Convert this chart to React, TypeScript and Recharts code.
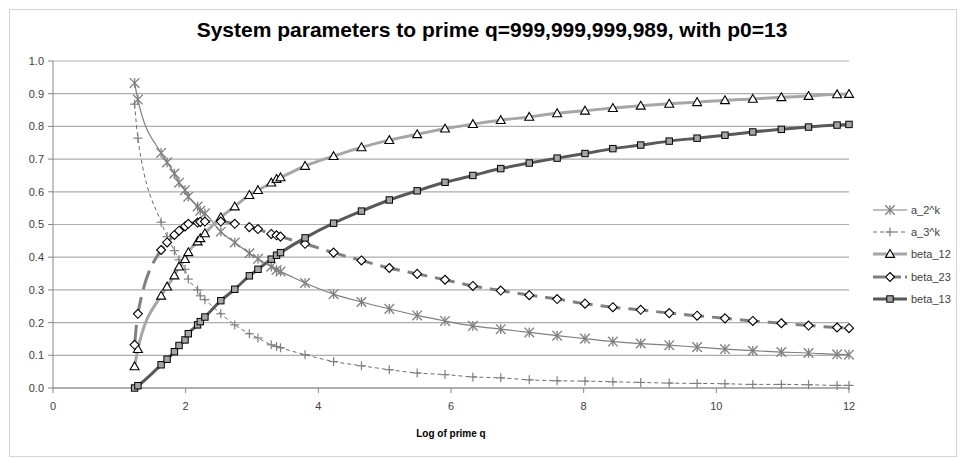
import { LineChart, Line, XAxis, YAxis, CartesianGrid } from 'recharts';

const logQ = [
  1.23, 1.28, 1.63, 1.72, 1.83, 1.9, 1.99, 2.04, 2.18, 2.22, 2.29, 2.53, 2.74, 2.96, 3.09, 3.29, 3.37, 3.43,
  3.8, 4.23, 4.65, 5.07, 5.49, 5.91, 6.33, 6.75, 7.18, 7.6, 8.02, 8.44, 8.86, 9.29, 9.71, 10.13, 10.55, 10.98,
  11.39, 11.82, 12.0,
];

const a2k = [
  0.933, 0.882, 0.719, 0.69, 0.656, 0.628, 0.605, 0.585, 0.555, 0.542, 0.534, 0.478, 0.445, 0.412, 0.395, 0.371,
  0.361, 0.356, 0.321, 0.287, 0.263, 0.242, 0.222, 0.205, 0.19, 0.18, 0.17, 0.16, 0.151, 0.142, 0.136, 0.131,
  0.125, 0.119, 0.114, 0.11, 0.107, 0.103, 0.102,
];

const a3k = [
  0.868, 0.764, 0.507, 0.463, 0.42, 0.392, 0.363, 0.333, 0.3, 0.282, 0.27, 0.227, 0.193, 0.166, 0.153, 0.132,
  0.127, 0.123, 0.102, 0.081, 0.068, 0.056, 0.046, 0.041, 0.034, 0.031, 0.025, 0.022, 0.021, 0.019, 0.017, 0.015,
  0.014, 0.013, 0.011, 0.011, 0.01, 0.008, 0.008,
];

const beta12 = [
  0.066, 0.119, 0.282, 0.31, 0.344, 0.371, 0.394, 0.415, 0.448, 0.458, 0.473, 0.522, 0.555, 0.59, 0.605, 0.628,
  0.639, 0.644, 0.679, 0.709, 0.736, 0.758, 0.776, 0.793, 0.807, 0.819, 0.829, 0.84, 0.848, 0.856, 0.863, 0.869,
  0.874, 0.88, 0.884, 0.889, 0.893, 0.898, 0.899,
];

const beta23 = [
  0.132, 0.227, 0.422, 0.445, 0.468, 0.481, 0.494, 0.502, 0.506, 0.508, 0.509, 0.509, 0.502, 0.492, 0.486, 0.471,
  0.467, 0.463, 0.441, 0.414, 0.39, 0.367, 0.349, 0.331, 0.312, 0.298, 0.284, 0.272, 0.258, 0.247, 0.239, 0.229,
  0.221, 0.213, 0.205, 0.198, 0.191, 0.185, 0.183,
];

const beta13 = [
  0.0, 0.007, 0.071, 0.088, 0.111, 0.13, 0.147, 0.166, 0.193, 0.203, 0.217, 0.267, 0.302, 0.343, 0.363, 0.394,
  0.406, 0.414, 0.459, 0.504, 0.541, 0.575, 0.603, 0.629, 0.65, 0.671, 0.688, 0.703, 0.717, 0.732, 0.743, 0.755,
  0.764, 0.773, 0.783, 0.791, 0.798, 0.804, 0.806,
];

const seriesNames = ['a_2^k', 'a_3^k', 'beta_12', 'beta_23', 'beta_13'];
const xTicks = [0, 2, 4, 6, 8, 10, 12];
const yTicks = [0, 0.1, 0.2, 0.3, 0.4, 0.5, 0.6, 0.7, 0.8, 0.9, 1.0];

const data = logQ.map((x, i) => ({
  x,
  a2k: a2k[i],
  a3k: a3k[i],
  beta12: beta12[i],
  beta23: beta23[i],
  beta13: beta13[i],
}));

const FONT = '"Liberation Sans", Arial, sans-serif';

// marker shapes (Excel style)
function starMark(cx: number, cy: number, key?: any) {
  const r = 4.8;
  return (
    <g key={key} stroke="#7f7f7f" strokeWidth={1.3}>
      <line x1={cx - r} y1={cy - r} x2={cx + r} y2={cy + r} />
      <line x1={cx - r} y1={cy + r} x2={cx + r} y2={cy - r} />
      <line x1={cx} y1={cy - r} x2={cx} y2={cy + r} />
    </g>
  );
}

function plusMark(cx: number, cy: number, key?: any) {
  const r = 4.5;
  return (
    <g key={key} stroke="#7f7f7f" strokeWidth={1.2}>
      <line x1={cx - r} y1={cy} x2={cx + r} y2={cy} />
      <line x1={cx} y1={cy - r} x2={cx} y2={cy + r} />
    </g>
  );
}

function triMark(cx: number, cy: number, key?: any) {
  const r = 4.5;
  return (
    <path
      key={key}
      d={`M${cx},${cy - r}L${cx + r},${cy + r * 0.75}L${cx - r},${cy + r * 0.75}Z`}
      fill="#fff"
      stroke="#000"
      strokeWidth={1.1}
    />
  );
}

function diaMark(cx: number, cy: number, key?: any) {
  const r = 4.5;
  return (
    <path
      key={key}
      d={`M${cx},${cy - r}L${cx + r},${cy}L${cx},${cy + r}L${cx - r},${cy}Z`}
      fill="#fff"
      stroke="#000"
      strokeWidth={1.1}
    />
  );
}

function sqMark(cx: number, cy: number, key?: any) {
  const r = 3.2;
  return (
    <rect key={key} x={cx - r} y={cy - r} width={2 * r} height={2 * r} fill="#a6a6a6" stroke="#000" strokeWidth={1} />
  );
}

const markFns = [starMark, plusMark, triMark, diaMark, sqMark];

const dotOf = (fn: (cx: number, cy: number, key?: any) => any) => (p: any) => {
  if (p.cx == null || p.cy == null) return <g key={p.index} />;
  return fn(p.cx, p.cy, p.index);
};

const lineStyles = [
  { key: 'a2k', stroke: '#7f7f7f', width: 1.2, dash: undefined },
  { key: 'a3k', stroke: '#6f6f6f', width: 1, dash: '4 3' },
  { key: 'beta12', stroke: '#a6a6a6', width: 3, dash: undefined },
  { key: 'beta23', stroke: '#808080', width: 3, dash: '20 8' },
  { key: 'beta13', stroke: '#595959', width: 3, dash: undefined },
];

const legendY = [210, 232, 254, 277, 299];

export default function App() {
  return (
    <div
      style={{
        position: 'absolute',
        left: 9,
        top: 9,
        width: 948,
        height: 448,
        boxSizing: 'border-box',
        border: '1px solid #d4d4d4',
        background: '#fff',
        fontFamily: FONT,
      }}
    >
      <div
        style={{
          position: 'absolute',
          left: 0,
          top: 8,
          width: 964,
          textAlign: 'center',
          fontSize: 21,
          fontWeight: 'bold',
          color: '#000',
          whiteSpace: 'nowrap',
        }}
      >
        System parameters to prime q=999,999,999,989, with p0=13
      </div>

      <LineChart
        width={946}
        height={446}
        data={data}
        margin={{ top: 51, right: 107, bottom: 38, left: 0 }}
      >
        <CartesianGrid vertical={false} stroke="#adadad" strokeWidth={1.2} />
        <XAxis
          dataKey="x"
          type="number"
          domain={[0, 12]}
          ticks={xTicks}
          stroke="#868686"
          tickSize={5}
          tickMargin={9}
          height={30}
          tick={{ fill: '#404040', fontSize: 11, fontFamily: FONT }}
          label={{
            value: 'Log of prime q',
            position: 'bottom',
            offset: 12,
            style: { fontSize: 10, fontWeight: 'bold', fill: '#000', fontFamily: FONT },
          }}
        />
        <YAxis
          type="number"
          domain={[0, 1]}
          ticks={yTicks}
          width={43}
          stroke="#868686"
          tickSize={5}
          tickMargin={4}
          tickFormatter={(v: number) => v.toFixed(1)}
          tick={{ fill: '#404040', fontSize: 11, fontFamily: FONT }}
        />
        {lineStyles.map((s, i) => (
          <Line
            key={s.key}
            dataKey={s.key}
            name={seriesNames[i]}
            type="monotone"
            stroke={s.stroke}
            strokeWidth={s.width}
            strokeDasharray={s.dash}
            dot={dotOf(markFns[i])}
            activeDot={false}
            isAnimationActive={false}
          />
        ))}
      </LineChart>

      {seriesNames.map((name, i) => (
        <div
          key={name}
          style={{
            position: 'absolute',
            left: 873 - 10,
            top: legendY[i] - 10 - 8,
            height: 16,
            display: 'flex',
            alignItems: 'center',
            fontSize: 11,
            color: '#404040',
            whiteSpace: 'nowrap',
          }}
        >
          <svg width={36} height={16} style={{ display: 'block' }}>
            <line
              x1={0}
              y1={8}
              x2={34}
              y2={8}
              stroke={lineStyles[i].stroke}
              strokeWidth={lineStyles[i].width}
              strokeDasharray={lineStyles[i].dash ? (i === 3 ? '12 4' : '4 3') : undefined}
            />
            {markFns[i](17, 8)}
          </svg>
          <span style={{ marginLeft: 2 }}>{name}</span>
        </div>
      ))}
    </div>
  );
}
